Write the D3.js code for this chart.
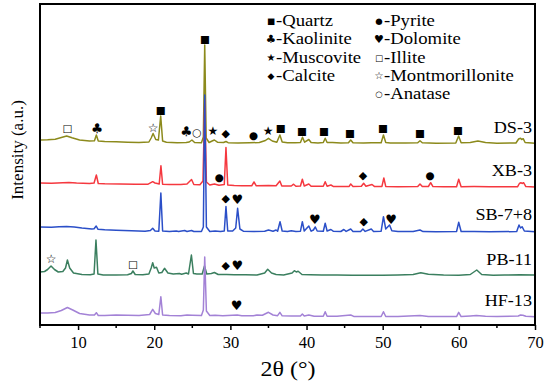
<!DOCTYPE html>
<html>
<head>
<meta charset="utf-8">
<script src="https://cdn.jsdelivr.net/npm/d3@7"></script>
<style>
  html, body { margin: 0; padding: 0; background: #fff; }
  svg { display: block; }
</style>
</head>
<body>
<div id="chart"></div>
<script>
// sample names, stacking offsets (a.u.) and line colours
const samples = ["DS-3", "XB-3", "SB-7+8", "PB-11", "HF-13"];
const offsets = [1850, 1420, 980, 530, 120];
const colors = ["#8c8a1c", "#f5383f", "#2b4fc8", "#3b7f5f", "#a382d6"];

// patterns: [2theta, intensity above sample offset]
const ds3 = [[5,0],[6,3],[7,8],[7.8,25],[8.5,40],[9.2,22],[10.2,0],[11.5,-10],[12.15,-8],[12.4,50],[12.65,-10],[13.5,-15],[15,-18],[16.5,-22],[18,-25],[19.3,-20],[19.6,20],[19.85,65],[20.2,5],[20.55,0],[20.85,240],[21.1,-10],[21.6,-22],[23,-28],[24.2,-25],[24.6,-20],[24.95,0],[25.3,-25],[26.2,-28],[26.45,30],[26.63,950],[26.82,20],[27.2,-25],[27.6,-10],[27.9,0],[28.3,-22],[29.1,-25],[29.42,-15],[29.7,-27],[31,-30],[32.5,-28],[33.8,-25],[34.6,-5],[35,17],[35.5,-10],[36.1,-22],[36.5,50],[36.8,-20],[37.5,-28],[38.5,-28],[39.2,-25],[39.47,27],[39.75,-22],[40.3,5],[40.6,-25],[41.5,-30],[42.2,-25],[42.45,17],[42.7,-25],[43.4,-26],[44.5,-30],[45.5,-28],[45.8,0],[46.1,-28],[47.5,-30],[48.5,-28],[49.8,-28],[50.1,50],[50.4,-25],[51,-30],[53,-30],[54.6,-28],[54.9,-7],[55.2,-27],[57,-32],[59.6,-30],[59.97,40],[60.3,-28],[61.5,-25],[62.5,-10],[63.5,-25],[65,-32],[67.5,-30],[67.85,10],[68.1,17],[68.25,5],[68.45,13],[68.7,-25],[70,-33]];
const xb3 = [[5,0],[6.5,-2],[8,3],[8.8,5],[9.8,0],[11.5,-5],[12.1,0],[12.4,80],[12.65,-5],[13.5,-8],[15.5,-10],[17.5,-12],[19.2,-12],[19.8,13],[20.1,0],[20.4,-5],[20.65,-10],[20.88,173],[21.1,-12],[22,-15],[23.5,-15],[24.3,-10],[24.9,35],[25.2,-15],[26,-18],[26.4,20],[26.63,830],[26.85,10],[27.3,-20],[27.9,-10],[28.5,-22],[29.2,-15],[29.42,355],[29.65,-20],[30.5,-25],[31.5,-28],[32.8,-28],[33.1,10],[33.4,-28],[35,-25],[36,-28],[36.5,20],[36.75,-30],[38,-30],[38.3,-12],[38.6,-32],[39.2,-30],[39.45,37],[39.7,-30],[40.3,-10],[40.6,-32],[42.2,-32],[42.45,13],[42.7,-32],[43.2,-20],[43.5,-34],[45.6,-34],[45.8,-10],[46.1,-34],[47.2,-32],[47.5,-3],[47.8,-32],[48.6,-15],[48.9,-34],[49.9,-34],[50.15,50],[50.4,-34],[52,-37],[54.6,-36],[54.9,-10],[55.2,-36],[56,-35],[56.3,3],[56.6,-36],[58,-38],[59.7,-37],[59.98,37],[60.3,-37],[62,-36],[64,-38],[67.7,-38],[67.95,-5],[68.15,3],[68.3,-5],[68.5,3],[68.8,-36],[70,-40]];
const sb78 = [[5,0],[6.5,-2],[7.5,3],[8.5,5],[9.5,0],[10.5,-10],[11.8,-20],[12.1,-18],[12.38,10],[12.6,-22],[13.5,-28],[15,-32],[17,-38],[18.8,-42],[19.5,-35],[19.8,-13],[20.1,-40],[20.6,-42],[20.87,340],[21.1,-40],[22,-45],[22.9,-40],[23.2,-45],[24,-35],[24.3,-45],[24.9,-35],[25.2,-45],[26.2,-45],[26.45,0],[26.63,1320],[26.85,0],[27.3,-45],[28,-40],[28.7,-44],[29.2,-40],[29.42,205],[29.65,-40],[30.3,-40],[30.7,-10],[30.95,187],[31.25,-20],[31.7,-42],[33,-45],[34.5,-42],[35,-30],[35.6,-42],[36,-30],[36.2,-42],[36.52,53],[36.8,-40],[37.5,-45],[38,-38],[38.6,-45],[39.2,-42],[39.45,53],[39.7,-40],[40.3,10],[40.6,-42],[40.9,-30],[41.15,0],[41.4,-40],[42.2,-42],[42.45,37],[42.7,-40],[43.2,-25],[43.5,-42],[44.5,-45],[44.9,-25],[45.2,-44],[45.8,-20],[46.1,-44],[47.1,-44],[47.4,-20],[47.7,-44],[48.5,-20],[48.8,-44],[49.8,-42],[50.1,103],[50.4,-20],[50.9,20],[51.2,-38],[52,-45],[54,-46],[54.9,-30],[55.3,-46],[57,-47],[59.7,-45],[59.98,47],[60.3,-45],[62,-46],[64,-47],[67.6,-46],[67.9,20],[68.1,-10],[68.3,3],[68.6,-40],[70,-48]];
const pb11 = [[5,0],[5.6,5],[6.0,25],[6.45,60],[6.9,25],[7.4,0],[8.0,5],[8.35,40],[8.6,120],[8.9,40],[9.4,-10],[10.5,-25],[11.6,-28],[12.1,-20],[12.35,320],[12.6,-20],[13.3,-30],[15,-30],[16.5,-28],[17,-15],[17.2,10],[17.5,-25],[18.5,-28],[19.3,-20],[19.6,40],[19.8,93],[20.0,40],[20.3,47],[20.6,-10],[21,-5],[21.35,37],[21.8,-10],[22.5,-20],[23.3,-15],[23.6,-22],[24.2,-10],[24.5,-20],[24.88,170],[25.15,-15],[25.6,-20],[26.3,-20],[26.6,60],[26.9,-20],[27.5,-15],[27.9,-5],[28.4,-25],[29.5,-25],[30.5,-28],[32,-28],[33.5,-30],[34.5,-10],[34.9,27],[35.4,-10],[36,-25],[37,-30],[38.1,-10],[38.4,13],[38.65,0],[38.9,8],[39.4,-25],[40.5,-28],[42,-30],[44,-30],[46,-33],[48,-32],[50,-33],[52,-30],[54,-25],[55,-7],[56,-22],[58,-30],[60,-32],[61.5,-25],[62.35,20],[63,-25],[64.5,-32],[66,-30],[68,-28],[70,-30]];
const hf13 = [[5,0],[6,0],[7,5],[7.8,25],[8.6,55],[9.3,30],[10.2,-5],[11.5,-20],[12.15,-20],[12.4,3],[12.65,-25],[13.5,-25],[15,-20],[16.5,-22],[18,-25],[19.4,-15],[19.8,37],[20.15,-5],[20.6,-15],[20.87,163],[21.1,-20],[22,-25],[23.5,-28],[24.3,-20],[25,-22],[26.2,-25],[26.45,30],[26.63,560],[26.85,20],[27.3,-25],[28,-22],[29,-28],[30.9,-20],[31.5,-28],[33,-28],[33.5,-20],[34.2,-22],[35,7],[35.6,-20],[36.2,-27],[36.5,7],[36.8,-28],[38,-30],[39.2,-30],[39.45,-10],[39.7,-30],[40.3,-20],[41,-32],[42.2,-32],[42.45,13],[42.7,-32],[44,-33],[45.8,-20],[46.2,-34],[48,-35],[49.8,-35],[50.1,13],[50.4,-35],[52,-35],[54.9,-25],[56,-36],[58,-36],[59.7,-36],[59.98,7],[60.3,-36],[61.5,-30],[62.3,-25],[63.5,-32],[65,-36],[67.8,-30],[68.1,-20],[68.4,-22],[68.8,-33],[70,-37]];
const patterns = [ds3, xb3, sb78, pb11, hf13];

// phase markers: [sample index, symbol, 2theta, level above offset]
const phaseMarks = [
  [0,"□",8.6,120],[0,"♣",12.5,120],[0,"☆",19.85,120],[0,"■",20.85,300],[0,"■",26.65,1010],
  [0,"♣",24.2,90],[0,"○",25.6,80],[0,"★",27.7,90],[0,"◆",29.4,70],[0,"●",33.0,50],[0,"★",34.95,90],
  [0,"■",36.6,120],[0,"■",39.4,90],[0,"■",42.3,90],[0,"■",45.7,70],[0,"■",50.05,120],[0,"■",54.9,70],[0,"■",59.9,105],
  [1,"●",28.5,63],[1,"◆",47.4,80],[1,"●",56.2,80],
  [2,"◆",29.4,290],[2,"♥",30.9,280],[2,"♥",41.1,80],[2,"◆",47.5,60],[2,"♥",51.1,80],
  [3,"☆",6.45,130],[3,"□",17.2,80],[3,"◆",29.4,70],[3,"♥",30.9,70],
  [4,"♥",30.8,80]
];

// legend
const legendSymbols = ["■","♣","★","◆","●","♥","□","☆","○"];
const legendNames = ["Quartz","Kaolinite","Muscovite","Calcite","Pyrite","Dolomite","Illite","Montmorillonite","Anatase"];

const xTicks = [10, 20, 30, 40, 50, 60, 70];
const xMinor = [5, 15, 25, 35, 45, 55, 65];

// glyph font sizes so the DejaVu symbols come out about the same size
const symSize = {"■": 10.5, "●": 10.5, "◆": 11, "♣": 13.5, "♥": 13, "★": 12, "□": 10.5, "☆": 12, "○": 10.5};

const width = 550, height = 388;
const margin = {top: 4, right: 15, bottom: 63, left: 40};
const serif = "'Liberation Serif', 'Times New Roman', serif";
const symFont = "'DejaVu Sans', sans-serif";
const stretch = 1.1; // the figure's lettering is a little wider than Liberation Serif

const svg = d3.select("#chart").append("svg")
    .attr("width", width)
    .attr("height", height);

const x = d3.scaleLinear().domain([5, 70]).range([margin.left, width - margin.right]);
const y = d3.scaleLinear().domain([0, 3210]).range([height - margin.bottom, margin.top]);

const line = d3.line()
    .x(d => x(d[0]))
    .y(d => y(d[1]));

// draw order: top three, then bottom two, blue last
const order = [0, 1, 3, 4, 2];
svg.append("g")
    .attr("fill", "none")
    .attr("stroke-width", 1.5)
    .attr("stroke-linejoin", "round")
    .selectAll("path")
    .data(order)
    .join("path")
    .attr("stroke", i => colors[i])
    .attr("d", i => line(patterns[i].map(p => [p[0], p[1] + offsets[i]])));

// sample labels
svg.append("g")
    .selectAll("text")
    .data(samples)
    .join("text")
    .attr("transform", (d, i) => `translate(${x(70) - 3},${y(offsets[i]) - 7}) scale(${stretch},1)`)
    .attr("text-anchor", "end")
    .style("font-family", serif)
    .style("font-size", "16.5px")
    .text(d => d);

// phase symbols
svg.append("g")
    .selectAll("text")
    .data(phaseMarks)
    .join("text")
    .attr("x", d => x(d[2]))
    .attr("y", d => y(offsets[d[0]] + d[3]))
    .attr("text-anchor", "middle")
    .attr("dominant-baseline", "central")
    .style("font-family", symFont)
    .style("font-size", d => symSize[d[1]] + "px")
    .text(d => d[1]);

// legend: 4 items left, 5 right
const legend = svg.append("g");
legendNames.forEach((name, i) => {
  const col = i < 4 ? 0 : 1;
  const row = i < 4 ? i : i - 4;
  const lx = col === 0 ? 271 : 379;
  const ly = 26 + row * 18.3;
  legend.append("text")
      .attr("x", lx)
      .attr("y", ly - 5)
      .attr("text-anchor", "middle")
      .attr("dominant-baseline", "central")
      .style("font-family", symFont)
      .style("font-size", (symSize[legendSymbols[i]] - 2) + "px")
      .text(legendSymbols[i]);
  legend.append("text")
      .attr("transform", `translate(${lx + 5},${ly}) scale(${stretch},1)`)
      .style("font-family", serif)
      .style("font-size", "17px")
      .text("-" + name);
});

// x axis
const xAxis = svg.append("g")
    .attr("transform", `translate(0,${height - margin.bottom})`)
    .call(d3.axisBottom(x).tickValues(xTicks).tickSize(5).tickSizeOuter(0).tickPadding(6));
xAxis.select(".domain").remove();
xAxis.selectAll(".tick line").attr("stroke", "#000").attr("stroke-width", 1.5);
xAxis.selectAll(".tick text")
    .style("font-family", serif)
    .style("font-size", "16.5px")
    .attr("fill", "#000");

svg.append("g")
    .selectAll("line")
    .data(xMinor)
    .join("line")
    .attr("x1", d => x(d)).attr("x2", d => x(d))
    .attr("y1", height - margin.bottom).attr("y2", height - margin.bottom + 3)
    .attr("stroke", "#000").attr("stroke-width", 1.5);

// frame
svg.append("rect")
    .attr("x", margin.left)
    .attr("y", margin.top)
    .attr("width", width - margin.left - margin.right)
    .attr("height", height - margin.top - margin.bottom)
    .attr("fill", "none")
    .attr("stroke", "#000")
    .attr("stroke-width", 2);

// axis titles
svg.append("text")
    .attr("transform", "translate(288,376) scale(1.2,1)")
    .attr("text-anchor", "middle")
    .style("font-family", serif)
    .style("font-size", "20px")
    .text("2θ (°)");

svg.append("text")
    .attr("transform", "translate(23,150) rotate(-90)")
    .attr("text-anchor", "middle")
    .style("font-family", serif)
    .style("font-size", "17px")
    .text("Intensity (a.u.)");
</script>
</body>
</html>
